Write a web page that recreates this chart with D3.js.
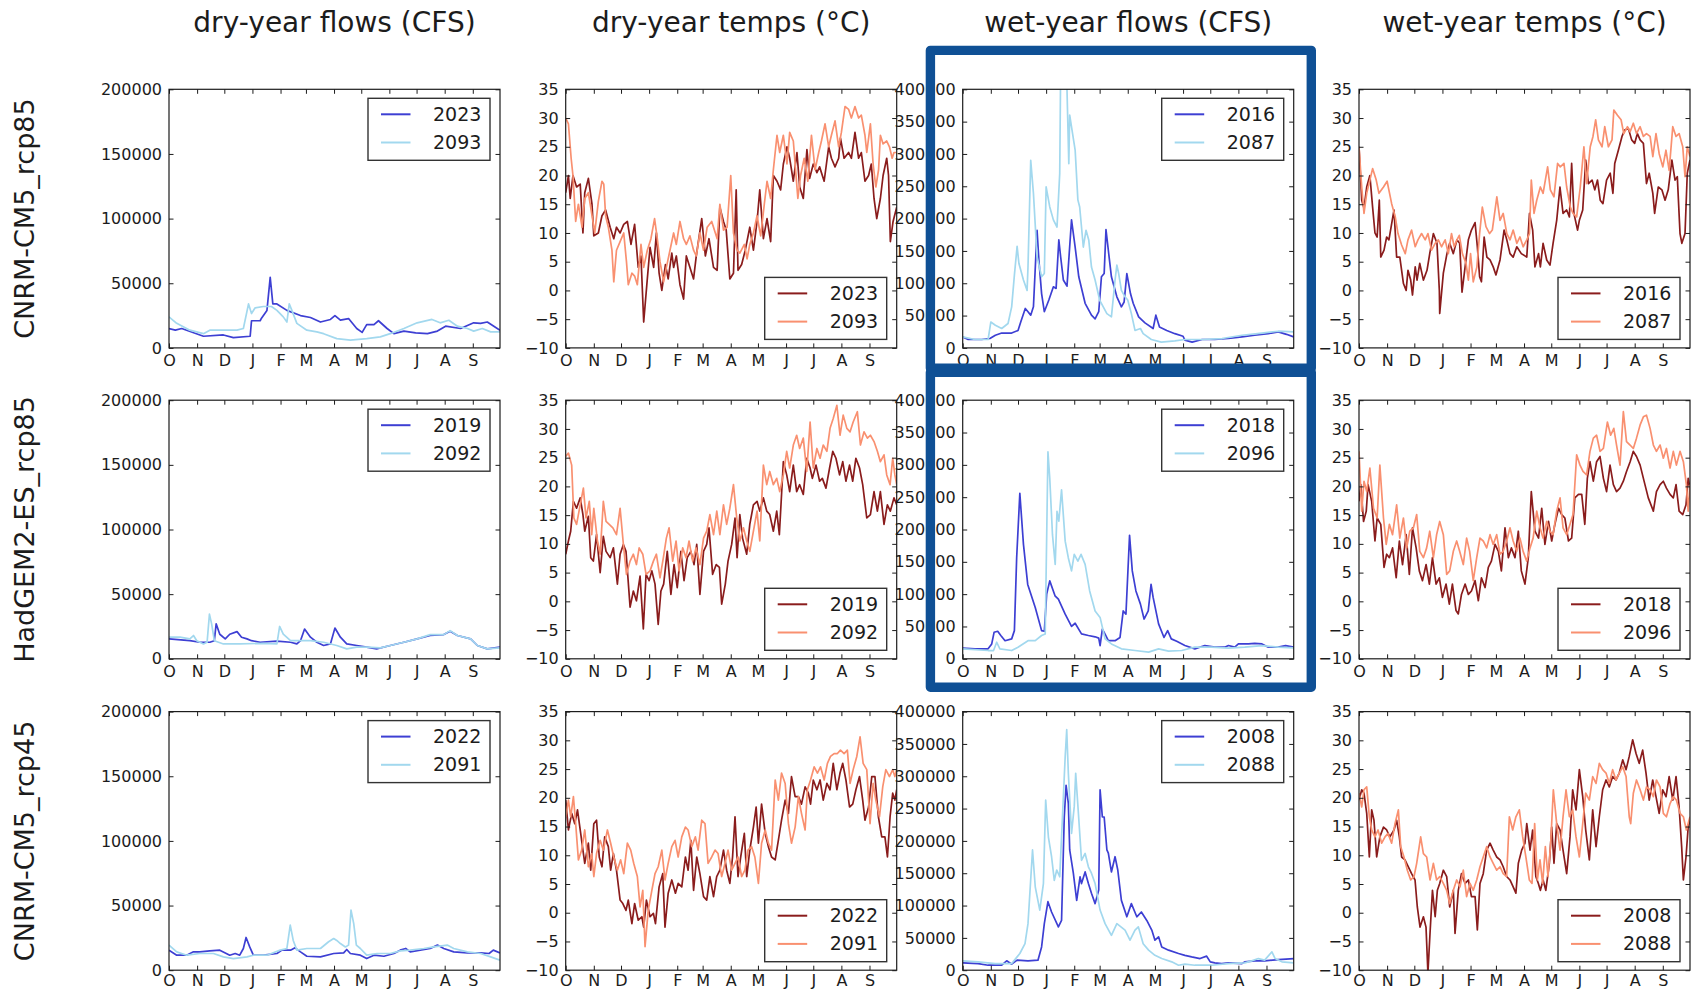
<!DOCTYPE html>
<html>
<head>
<meta charset="utf-8">
<script src="https://cdn.jsdelivr.net/npm/d3@7"></script>
<style>
  body { margin: 0; background: #fff; }
  svg { display: block; font-family: "DejaVu Sans", sans-serif; }
</style>
</head>
<body>
<svg id="chart" width="1691" height="990"></svg>
<script>
// ---------- labels & ticks ----------
const columnTitles = ["dry-year flows (CFS)", "dry-year temps (°C)", "wet-year flows (CFS)", "wet-year temps (°C)"];
const rowLabels = ["CNRM-CM5_rcp85", "HadGEM2-ES_rcp85", "CNRM-CM5_rcp45"];
const monthLabels = ["O", "N", "D", "J", "F", "M", "A", "M", "J", "J", "A", "S"];
const monthStartDays = [0, 31, 61, 92, 123, 151, 182, 212, 243, 273, 304, 335];
const dryFlowTicks = [0, 50000, 100000, 150000, 200000];
const wetFlowTicks = [0, 50000, 100000, 150000, 200000, 250000, 300000, 350000, 400000];
const tempTicks = [-10, -5, 0, 5, 10, 15, 20, 25, 30, 35];
const dryYears = [["2023", "2093"], ["2019", "2092"], ["2022", "2091"]];
const wetYears = [["2016", "2087"], ["2018", "2096"], ["2008", "2088"]];

// ---------- series: [day of water year, value]; flows in thousand CFS, temps in °C ----------
// CNRM-CM5_rcp85
const dryFlow2023 = [[0,15],[7,13.7],[14,15],[38,9],[60,10],[71,8],[89.5,9],[91,21],[100.5,21],[102,23],[108,29],[111.6,54.5],[114.5,34],[119,34],[130,29],[145,25],[156,23.5],[167,20],[178,22],[183,25],[189,21.5],[198,22.7],[207,15],[213,12],[218,18],[226,18],[231,21],[240.5,15],[248,11],[259,13],[272,11.6],[285,11],[296,13],[305,16.8],[321.5,15],[336,19.4],[343.6,19],[351,20],[356.5,17.5],[365,13.7]];
const dryFlow2093 = [[0,24],[8.5,19],[23,13.7],[38,11],[45,13.7],[60,13.7],[75,13.7],[82,15],[87.7,34],[91,26.6],[95,31],[104,32],[113,32],[119,29],[126,24],[130,20],[132.6,34],[135.5,29],[141,19],[152,13.7],[163,12.4],[170.5,11],[185,7.2],[200,6],[218,7.2],[233,8.5],[244,11],[259,15],[273.6,19.4],[290,22],[299,19.4],[308.6,21.4],[318,16.8],[329,15],[336,13],[345.5,15],[354.7,12.4],[365,12.4]];
const dryTemp2023 = [[0,17],[3,20],[5,16],[8,20],[12,18],[16,18.5],[19,10],[21,17],[25,19.5],[29,15],[31,9.5],[36,10],[40,13],[44,14],[49,11],[53,9],[56,11],[60,10],[64,11.5],[68,12],[72,8],[76,11.5],[80,4],[83,6],[86,-5.5],[90,2],[93,7.5],[97,4],[100,10],[103,3],[106,0],[110,4.5],[113,2],[117,6.5],[119,4],[122,6],[126,1],[130,-1.5],[133,6],[137,4],[141,2],[144,6],[150,12.5],[154,6],[158,9],[163,4],[167,3.5],[170,14.5],[174,12],[177,10.5],[181,2],[185,3],[188,17.5],[190,3.5],[194,4.5],[198,7],[203,11],[207,7],[211,12],[214,17.5],[218,9],[222,12.5],[226,8.5],[229,20],[233,19],[237,17.5],[240,22],[244,25],[247,23],[251,19],[255,24],[258,18],[262,16],[266,24.5],[269,19.5],[273,22],[277,20.5],[280,21.5],[285,19],[290,25],[293,23],[297,21.5],[301,23],[303,26.5],[307,23],[312,24],[315,23],[319,27.5],[323,23],[326,24],[330,19],[334,20],[337,22],[340,16],[343,12.5],[347,16],[350,20],[354,23],[356,20],[358,8.5],[361,12],[365,14.5]];
const dryTemp2093 = [[0,30],[3,29],[6,23],[8,20],[11,12],[14,15],[18,11],[21,16],[25,17],[29,13],[32,10],[36,15.5],[40,19],[42,18.5],[44,13],[47,11],[51,7],[53,1.5],[56,7],[60,8.5],[64,10],[67,5],[69,1],[73,3],[76,2.5],[79,1],[83,8],[86,4],[90,7],[94,9],[98,12.5],[101,9],[104,5],[108,1.5],[111,4],[115,7],[119,10],[122,8],[126,12],[130,9],[133,8],[137,9.5],[141,7],[144,6],[148,10],[152,7],[156,11],[161,12],[167,9],[170,15],[174,10.5],[178,11],[182,20],[185,10],[189,7],[192,6.5],[197,8],[200,5.5],[203,8],[207,10],[211,13],[215,9.5],[219,15],[222,19],[226,16],[229,21],[233,27],[236,24],[240,27],[244,22],[247,27.5],[251,26],[256,16],[259,20],[263,23],[267,19],[271,27],[275,21],[279,24],[282,26],[286,29],[290,25],[293,27],[297,29.5],[301,25],[304,27.5],[308,32],[312,31.5],[315,30],[319,32],[323,30],[326,30.5],[330,27],[332,24],[336,29],[339,22],[342,18],[345,21],[347,27],[350,25.5],[354,26],[357,25],[360,23],[362,24],[365,24]];
const wetFlow2016 = [[0,17],[6,13],[21,13],[30,14.5],[36,19.6],[43,23],[54,23],[61,27],[64,40],[69,61],[72,56],[75,50.6],[78,63.5],[82,182],[84,136],[87,84],[90,56],[95,74],[100,94.5],[103,92],[106,167],[108,141],[111,105],[115,95.5],[120,198],[124,156],[128,110],[135,69],[142,50.6],[146,45],[150,56],[153,110],[156,115],[158,183],[161,146],[164,110],[170,79],[175,63.5],[178,71],[181,115],[185,84],[188,69],[194,48],[201,38.7],[210,30],[213,50.6],[217,32.5],[225,27],[234,22],[243,18],[245,12],[253,9],[264,13],[278,13],[293,14.5],[308,17],[322,19.6],[337,22],[348,24.8],[357,21],[365,17]];
const wetFlow2087 = [[0,17],[13.6,13],[28,13],[31,40],[36,35],[43,30],[50,37.7],[54,63.5],[57,112.5],[60,157],[62,130.6],[67,105],[71,89],[72,125],[75,290],[78,239],[82,141],[87,110],[90,115],[92,249],[96,218],[100,198],[104,187],[107,270],[108,430],[113,430],[115,400],[117,285],[118,360],[120,342],[124,306],[127,229],[129,218],[133,156],[136,182],[139,167],[142,125],[146,105],[151,74],[159,53],[164,48],[168,105],[170,128],[172,115],[175,89],[179,79],[182,74],[186,53],[190,27],[196,30],[199,22],[208,13],[219,9],[234,11],[245,13],[264,13],[286,14.5],[308,19.6],[330,23],[348,25.8],[365,24.8]];
const wetTemp2016 = [[0,25],[3,15.7],[5.5,14.3],[8.5,18],[12,20],[15,14.5],[17.6,10],[20,9.3],[22.4,15.7],[24,5.8],[27.6,7],[30.5,9.3],[33,8.8],[38.6,14],[41.5,5.8],[45,5.8],[49,1.2],[52,0],[54,3.5],[57,1.8],[59,-0.8],[62,4.1],[64,1.8],[67,4.7],[71,1.8],[75,3.5],[78,6.4],[82,9.9],[86,8.2],[88.6,0],[89,-4],[93,3],[97,6.4],[100,8.2],[104,6.4],[108,8.8],[111,8.2],[113.6,-0.3],[117,4.1],[120.6,8.8],[124,10.5],[128,11.8],[130.5,7.6],[133,2.4],[135,1.5],[138,9.3],[141,5.8],[144.5,5.3],[148,4.1],[151,2.7],[155.5,5.3],[160,10.5],[163,8.8],[166.5,6.4],[170,5.8],[174,7.6],[179,6.4],[185,5.8],[188,13.4],[191.5,10.5],[194,4.1],[198,6.4],[200,4.1],[203,8.2],[207,5.3],[210.6,4.4],[214,8.2],[218,12.2],[221.6,18],[225,13.4],[229,14],[232,12.8],[234.5,22.1],[237,13.4],[241,10.5],[243,12.2],[246.7,14],[250,22.7],[253,18.6],[257,19.2],[260,17.5],[263,19.2],[266,15.7],[269,15.1],[273,19.2],[277,20.4],[280,16.9],[282,22.1],[286,24.4],[290,26.8],[293,27.9],[297,28.2],[300.7,26.2],[304,25.6],[307,27.3],[310,26.2],[313.6,25.6],[317,18.6],[320,20.4],[324,16.9],[326,13.4],[330,18],[334,17.5],[337.5,15.7],[341,17.5],[345,22.7],[348.5,19.2],[351,19.8],[354,9.9],[356,8.2],[359.5,9.9],[362,20.4],[365,22.7]];
const wetTemp2087 = [[0,25],[3,18],[5.5,13.4],[8.5,16.9],[12,19.2],[15,21.2],[19,19.2],[22,16.9],[27,18],[31,19],[36,15.1],[40,12.8],[43,9.9],[47,7.9],[51,6.4],[54,8.8],[58,10.5],[62,7.6],[65,8.8],[69,9.9],[73,8.8],[76,9.9],[80,7],[84,8.2],[87.5,8.8],[91,7.6],[95,8.8],[98.5,6.4],[102,9.9],[105,7.6],[108,8.8],[110.6,9.6],[114,6.4],[118,4.7],[120.6,1.8],[123,6.4],[126,1.5],[130,4.1],[133,9.9],[136,14.5],[140,11.1],[144,9.9],[147,10.5],[152,16.3],[155.5,12.2],[159,13.4],[163,9.9],[166.5,8.8],[170,10.5],[174,8.2],[177.5,9.3],[181,7.6],[185,8.8],[188,9.9],[190,19.2],[193,13.4],[196,15.7],[200,18],[203,16.9],[208,21.5],[211,17.5],[215,16.3],[219,22.1],[222,21.5],[226,22.1],[229,18],[233,14.5],[236,13.4],[240,12.8],[244,18],[248,25],[251,18.6],[255,25],[258,26.8],[261,29.7],[264,26.2],[268,25],[271,28.5],[275,25],[279,26.2],[281,31.4],[285,30.5],[289,29.7],[292,27.3],[296,28.5],[299,27.6],[302.5,29.1],[306,27.3],[310,28.5],[313.6,26.8],[317,27.3],[321,26.8],[324,23.3],[327.5,27.3],[331,23.8],[335,21.5],[338.5,24.4],[342,20.9],[346,28.5],[349.6,26.8],[353,27.3],[357,25],[359.5,19.8],[362,25],[365,23.3]];

// HadGEM2-ES_rcp85
const dryFlow2019 = [[0,15.4],[23,14],[34,12.8],[45,12.8],[50,14],[52,27],[56,19],[62,15.4],[67,19],[75,21],[80,16.7],[86,15.4],[91,14],[100.5,12.8],[119,13.6],[134,12.8],[141,11.5],[145,14],[149.5,23],[156,16.7],[163,12.8],[170.5,10.3],[178,11.5],[183,23.8],[189,16.7],[196,11.5],[207,10.3],[218,9],[229,7.7],[244,10.3],[259,12.8],[273.6,15.4],[288,18],[303,18.7],[310,21.3],[318,18],[332.6,15.4],[340,10.3],[351,7.7],[365,9]];
const dryFlow2092 = [[0,16.7],[12,16.7],[23,15.4],[27,18],[30.6,14],[38,11.5],[42,12.8],[44.6,34.6],[47,27],[50,14],[60,11.5],[78,11.5],[104,12],[119,11.5],[122,25],[126,19],[134,14],[141,14],[156,14],[170.5,12.8],[185,10.3],[196,7.7],[207,9],[218,9],[233,8.5],[244,10.3],[259,12.8],[273.6,15.4],[288,18.7],[303,18.7],[310,21.8],[318,18],[332.6,15.4],[340,10.3],[351,7.7],[365,8.5]];
const dryTemp2019 = [[0,8.2],[3,10.5],[5.5,12.2],[8.5,17.4],[12,16.2],[16,18],[19,15.1],[21,12.2],[25,14.8],[27.6,7.6],[30.5,7],[34,11.6],[38,5],[41.5,11.3],[44.5,8.7],[49,7.6],[52.6,9.3],[57,3],[60,8.2],[63.6,9.9],[66.5,8.7],[71,-1],[74.6,1.8],[78,0.1],[82,4.4],[85.6,-4.8],[88.6,4.7],[92,3.6],[95,5.3],[98.5,3],[102,-4],[105,1.8],[108,3],[112,8.7],[116,1.2],[119.5,6.4],[123,2.4],[127,8.7],[130.5,3.6],[134,7.6],[138,8.7],[141.5,6.4],[144.5,9.9],[148,1.2],[152,8.7],[155.5,9.9],[158,12.8],[162,4.7],[166,6.4],[169.5,5.9],[172,-0.5],[176,3],[179,7],[183,9.9],[186.7,14.5],[189,7.6],[192,15.1],[195,11],[199.6,8.2],[203,13.4],[207,16.8],[211,17.4],[214,15.7],[218,18],[221.7,15.7],[225,15.1],[229,12.2],[232.7,15.7],[235.6,11.6],[240,24.3],[243.7,22],[247,19.1],[251,23.7],[254.7,19.1],[258,20.3],[262,18.6],[265.8,24.9],[269.5,23.2],[272,21.4],[276,23.7],[280,20.9],[283,21.4],[287,19.7],[291,23.2],[294.5,26.1],[298,24.9],[302,22],[305.5,24.3],[309,20.9],[313,23.7],[316.5,20.9],[320,24.9],[324,23.2],[327.5,20.3],[332,14.5],[336,15.1],[340,19.1],[343.7,15.7],[347,19.1],[351,13.4],[354.7,16.8],[358,15.7],[362,18],[365,16.8]];
const dryTemp2092 = [[0,25.2],[3,25.8],[6.6,23.7],[9,14.5],[12,13.4],[16,16.8],[19.5,19.7],[22.4,14.5],[26,17.4],[28.7,11.6],[31,16.2],[35,10.5],[38,8.2],[41.5,17.4],[44.5,13.9],[48,13.4],[52,12.8],[56,11.6],[60,16.2],[63.6,9.9],[67,4.7],[71,7],[74.6,8.2],[78,6.4],[81,9.3],[85,8.2],[88.6,4.7],[93,5.3],[96.7,7],[100,8.2],[104,4.1],[107.7,7.6],[111,11],[114,12.8],[118,7],[121.7,10.5],[125,5.3],[129,9.3],[132.7,7.6],[136,10.5],[140,7],[143.7,9.3],[148,6.4],[152,11],[155.5,12.2],[159,15.1],[163,11.6],[166.6,15.7],[170,11.6],[174,16.8],[177.5,13.4],[181,16.2],[185,20.3],[188.6,14.5],[192,10.5],[196,12.8],[199.6,10.5],[203,8.7],[207,12.2],[211,15.7],[214,10.5],[218,23.7],[221.7,20.3],[225,22.6],[229,20.3],[232.7,21.4],[236,19.1],[240,22],[243.7,26.1],[247,23.2],[251,27.2],[254.7,28.9],[258,26.6],[262,28.4],[265.8,22.6],[269.5,31.2],[273,23.2],[277,26.6],[280.5,24.9],[284,27.2],[288,26.1],[291.5,30.1],[295,31.8],[299,34.1],[302.5,28.9],[306,32.4],[310,30.1],[313.6,29.5],[317,31.2],[321.6,33],[325,27.2],[329,29.5],[332.7,28.4],[336,28.9],[340,27.8],[343.7,26.1],[347,24.3],[351,25.5],[354,22],[357.7,20.3],[360.6,24.9],[363,22],[365,20.3]];
const wetFlow2018 = [[0,16.4],[13.6,15.4],[28,15.4],[32,23],[34.6,41],[38.6,42.6],[42,36],[46.7,28],[54,30.8],[57,43.6],[59.5,156],[63,256],[67,177],[71.7,115],[80,79.5],[87,43.6],[90,42.6],[92.6,100],[96,120.5],[101.8,97.4],[105.5,92.3],[113,69],[120,50],[124,55],[131,38.5],[138.6,36],[146,34],[150,32],[151.5,20.5],[154,46],[156,41],[160.6,28],[168,28],[173.5,33],[177,74],[180,69],[184,191],[187,136],[191,105],[196,84.6],[200,61.5],[204.6,74],[207.7,115],[210,95],[216,54],[222,33],[226,43.6],[230,30.8],[236,27],[245,20.5],[256,15.4],[267,20.5],[278,18],[289,18],[293,20.5],[300,18],[304,23],[315,23],[322,24],[330,23],[337,18],[348,18],[356,20.5],[365,18]];
const wetFlow2096 = [[0,15.4],[28,12.8],[34,12.8],[37.5,25.6],[41,15.4],[54,12.8],[61,18],[72,28],[80,28],[87,36],[91,38.5],[94,320],[96,279],[99,192],[102,146],[104,228],[106,213],[109,261.5],[113,182],[116.5,156],[120,136],[123,161.5],[127,151],[130.5,161.5],[135,146],[140,105],[146,74],[151.5,64],[157,30.8],[164,23],[175,15.4],[190,12.8],[205,10.3],[216,15.4],[227,11.8],[241.5,12.8],[256,18],[274.6,18],[293,16.4],[311,18],[330,20.5],[348,18],[365,17]];
const wetTemp2018 = [[0,17.4],[2,20.3],[5,13.9],[8,15.7],[10,20.3],[14,17.4],[17.6,10.5],[20,14.5],[24,13.4],[27.6,5.9],[30.5,8.2],[33.5,7.6],[37,9.3],[41,4.1],[44.5,10.5],[48,6.4],[52,11.6],[55.5,4.7],[59,12.8],[63,9.3],[66.5,5.3],[70,3.6],[74,6.4],[77.6,3],[81,7.6],[85,3],[88.6,4.1],[92,0.7],[96,3],[99.6,-0.5],[103,3],[107,-1.6],[109.5,-2.2],[113,1.2],[117,3],[120.6,1.2],[124,1.8],[128,3.6],[131.6,0.1],[135,4.1],[139,2.4],[142.6,5.9],[146,7],[150,9.9],[153.7,8.7],[157,5.3],[161,12.8],[164.7,7.6],[168,9.3],[172,7.6],[175.7,12.2],[179,5.3],[183,3],[186.7,7.6],[190,19.1],[194,12.2],[198,11],[201.5,16.2],[205,9.9],[209,13.9],[212.5,10.5],[216,13.4],[220,16.2],[223.5,15.1],[227,14.5],[231,10.5],[234.5,11],[238,18],[242,18.6],[245.6,18.6],[249,13.4],[251.8,21.4],[254.7,24.3],[258.4,20.9],[262,24.3],[265.8,25.2],[269.5,21.4],[273,19.1],[276.8,23.7],[280.5,20.3],[284,19.1],[287.8,19.7],[291.5,20.9],[295,22.6],[299,24.3],[302.5,26.1],[306,25.2],[310,23.7],[313.6,21.4],[319,18],[324.6,15.7],[328,19.1],[332,20.3],[335.6,20.9],[339,19.7],[343,18.6],[346.6,18],[349.6,20.3],[353,15.7],[357,15.1],[360.6,16.8],[363,21.4],[365,19.7]];
const wetTemp2096 = [[0,26.1],[3,15.7],[5.5,20.9],[8.5,19.1],[12,23.2],[16,16.2],[20,14.5],[23,23.7],[27,14.5],[30,9.9],[33.5,13.4],[37,11.6],[41.5,16.8],[45,11],[49,14.5],[52.6,9.3],[56,12.2],[60,12.8],[63.6,15.1],[67,8.7],[71,7.6],[74.6,9.3],[78,12.2],[82,7.6],[85.6,11.6],[89,13.9],[93,11.6],[96.7,4.7],[100,5.3],[104,8.7],[107.7,10.5],[111,8.7],[115,6.4],[118.7,11],[122,8.7],[126,3.6],[129.8,7.6],[133.4,11],[137,10.5],[140.8,9.3],[144.5,11.6],[148,9.9],[151.8,11.6],[155.5,8.2],[159,8.7],[162.8,10.5],[166.5,12.8],[170,10.5],[173.9,8.7],[177.5,11],[181,8.7],[184.9,7],[188.6,9.3],[192,11],[196,15.7],[199.6,12.8],[203,11],[207,13.9],[210.6,12.2],[214,11.6],[218,15.7],[221.7,18],[225,12.8],[229,11.6],[232.7,13.4],[236,15.1],[240,25.5],[243.7,23.7],[247,22.6],[251,22],[254.7,26.1],[258.4,28.4],[262,28.9],[265.8,26.1],[269.5,26.6],[273.9,31.2],[277.5,28.9],[281,30.1],[284,27.2],[287.8,23.7],[291.5,33],[295,27.8],[298.9,27.2],[302.5,26.6],[306,28.4],[310,30.7],[313.6,32.1],[317,32.4],[321,30.1],[324.6,27.2],[328,26.1],[332,27.2],[335.6,24.9],[339,26.6],[343,23.2],[346.6,26.1],[350,23.7],[354,26.1],[357.7,24.3],[361,20.3],[363,15.7],[365,20.3]];

// CNRM-CM5_rcp45
const dryFlow2022 = [[0,15.5],[8.5,11.6],[19.5,11.6],[27,14.2],[34,14.2],[45,15],[56,15.5],[67,11.6],[73,12.9],[78,11.6],[82,16.8],[85,25.3],[89,18],[93,11.6],[104,11.6],[119,12.9],[124.5,15.5],[134,15.5],[139,17.3],[145,14.2],[152,10.8],[167,10.3],[181.6,12.9],[192.6,13.4],[196,16],[200,12.9],[211,11.6],[218,9],[226,11.6],[237,10.8],[248,12.9],[255,15.5],[261,16.8],[266,14.2],[277,15.5],[288,16.8],[296,19.4],[303,16.8],[314,14.2],[329,13.4],[343.6,13.4],[353,12.9],[357.6,15.5],[365,13.4]];
const dryFlow2091 = [[0,19.4],[8.5,14.2],[19.5,11.6],[34,12.9],[49,12.9],[60,10.3],[71,9],[86,10.3],[93,11.6],[108,11.6],[122.6,15.5],[130,16.8],[133.7,34.8],[137,23],[141,15.5],[152,16.8],[167,16.8],[176,22],[181.6,24.5],[185,23],[189,20.6],[194.5,18],[198,19.4],[200.7,46.5],[203.7,36],[206.6,19.4],[211,16.8],[218,11.6],[229.5,12.9],[244,12.9],[255,15],[266,15.5],[281,16.8],[292,18],[306.8,19.4],[314,16.8],[329,14.2],[343.6,12.9],[354.7,10.3],[365,7.7]];
const dryTemp2022 = [[0,19.6],[3,14.4],[6.6,17.3],[10,15.5],[13,17.9],[16,14.4],[19,10.9],[21,8.6],[25,12.1],[27.6,7.4],[31,15.5],[34,16.1],[37,9.7],[40,8],[43,13.2],[47,11.5],[49.6,7.4],[52.6,10.3],[56,7.4],[60,2.2],[63,1.6],[66.5,0.4],[69,2.2],[73,-1.9],[76,1.6],[80,-1.3],[84,-0.7],[86,-2.5],[89,2.2],[93,-0.7],[96.7,-0.1],[99,-1.9],[103,4.5],[107,6.8],[109.5,-2.5],[113,3.4],[117,5.7],[121,3.4],[124,5.1],[128,4.5],[132,9.7],[135,7.4],[138,12.6],[141,3.9],[144.5,9.7],[148,6.8],[152,2.8],[155.5,2.2],[159,6.3],[163,2.8],[166.5,6.3],[170,7.4],[174,10.9],[177.5,7.4],[181,5.1],[184,9.7],[186.7,16.7],[190,6.3],[193,9.7],[197,13.8],[199.6,6.3],[203,10.9],[207,14.9],[210,18.4],[212.5,12.1],[216,18.9],[220,13.8],[223.5,11.5],[227,9.7],[231,9.2],[234.5,12.6],[238,16.1],[242,19.6],[245.6,17.3],[249,23.7],[253,20.2],[256.6,20.2],[260,18.9],[264,21.9],[267.6,20.8],[270,18.9],[273,23.1],[277,21.4],[280.5,23.1],[284,19.6],[288,22.5],[291.5,21.4],[295,26],[299,21.4],[302.5,24.3],[305.5,26],[309,23.1],[313,18.4],[316.5,18.9],[320,21.4],[324,23.7],[327.5,19.6],[330,16.1],[334,18.4],[337.5,23.7],[341,23.7],[344.8,16.7],[348.5,13.2],[352,13.2],[354.8,9.7],[357.7,16.7],[360.6,20.8],[363,19.6],[365,21.4]];
const dryTemp2091 = [[0,16.7],[3,19.6],[5.5,16.7],[8.5,20.2],[11,15.5],[14,9.2],[17.6,10.9],[21,14.4],[25,8],[28.7,10.3],[31,6.3],[34,10.3],[38,12.6],[41.5,10.9],[46,14.4],[49.6,12.1],[53,9.7],[57,7.4],[60.6,9.2],[64,6.8],[68,12.1],[71.7,10.9],[75,8.6],[79,6.3],[82,1],[85,3.9],[87.5,-5.9],[91,0.4],[95,3.9],[98.5,6.8],[102,8],[106,10.9],[109.5,5.7],[113,8.6],[117,11.5],[120.6,12.6],[124,9.7],[128,13.2],[132,14.9],[135,14.4],[139,11.5],[143,13.2],[146,10.9],[150,16.1],[153.6,15.5],[157,8.6],[161,9.7],[164.7,10.9],[168,10.3],[172,6.3],[175.7,8.6],[179,10.9],[183,7.4],[186.7,8.6],[190,9.7],[194,6.3],[197.6,7.4],[201,10.9],[205,11.5],[208.6,9.7],[212.5,5.1],[216,12.1],[220,14.4],[223.5,12.1],[227,10.9],[231,23.1],[234.5,19.6],[238,24.3],[242,22.5],[245.6,15.5],[249,12.1],[253,14.9],[256.6,20.2],[260,17.3],[264,14.4],[266.5,21.4],[270,23.1],[274,25.4],[277.6,24.3],[281,25.4],[285,23.1],[288.6,26],[292,27.2],[296,27.7],[299.6,27.7],[303,28.3],[307,27.7],[310.6,28.3],[313.6,22.5],[317,24.9],[321,27.2],[324.6,30.6],[328,26],[332,24.9],[335.6,15.5],[339,22.5],[342,19.6],[346,16.7],[349.6,21.9],[353,24.9],[357,23.7],[360.6,24.9],[363,23.7],[365,24.9]];
const wetFlow2008 = [[0,11.4],[17,10.3],[28,7.7],[43,7.7],[48.5,14.5],[54,9.3],[60,15.5],[72,14.5],[83,15.5],[87,36],[90,72],[94,106],[98,90],[105.5,67],[109,77],[112,237],[114,286],[116.5,258],[118,186],[122,150],[125.7,108],[129.4,144.5],[131,134],[135,152],[138.6,134],[142,119],[146,103],[150,124],[151.5,279],[154,237],[156,237],[159,186],[160.6,181],[164,152],[168,175.5],[171,155],[175,108],[181,82.6],[186,103],[192,82.6],[197,90],[203,77],[208.5,62],[212,46.5],[216,51.6],[219.5,36],[227,31],[238,25.8],[245,23],[252.5,20.6],[261.7,18],[269,21.7],[273,12.9],[278,11.4],[285.6,10.3],[293,11.4],[308,10.3],[311,12.9],[322,14.5],[333,14.5],[348,16.5],[365,18]];
const wetFlow2088 = [[0,14.5],[17,12.9],[35.7,10.3],[54,10.3],[60,20.6],[63,25.8],[68.7,41],[72,72],[77,186],[80,129],[85,93],[89,134],[91.5,263],[94.5,206],[98,175.5],[101,139],[103.7,155],[107,144.5],[110,237],[113,330],[114.7,372],[116.5,304.5],[120,211.6],[123,253],[124.6,304.5],[127.6,242.6],[131,170],[135,180.6],[138.6,160],[142,150],[146,134],[151.5,93],[157,72],[164,54],[170,72],[179,62],[184.5,46.5],[190,62],[193.7,67],[199,41],[205,31],[212,23],[219.5,18],[230.5,12.9],[238,7.7],[245,9.3],[256,7.7],[274.6,7.7],[293,10.3],[311,11.4],[318.7,14.5],[326,18],[333,15.5],[341,28.4],[344.5,18],[352,12.9],[365,11.4]];
const wetTemp2008 = [[0,19.6],[3,21.4],[5.5,20.8],[8.5,17.3],[11.4,9.7],[14,17.9],[16.5,16.1],[19.5,9.7],[23,13.2],[27,14.9],[30.5,14.4],[34,13.2],[38.6,14.4],[41.5,16.1],[44.5,13.2],[47,9.7],[50.7,9.2],[54.4,8],[58,6.8],[61.8,5.7],[64.3,1],[67.3,-2.5],[71,-0.7],[73.9,-2.5],[76,-10.5],[78.3,-3.6],[81,3.9],[84,-0.7],[86.4,3.9],[89,5.1],[93,7.4],[96.7,6.3],[100,1],[104,3.9],[105.9,-3.6],[109.5,3.9],[113,6.8],[117,5.1],[120.6,5.7],[124,2.8],[128,2.8],[130.5,-3],[133.4,5.1],[137,6.8],[140.8,10.9],[144.5,12.1],[148,10.9],[151.8,9.7],[155.5,9.2],[159,8],[162.8,6.3],[166.5,5.7],[170,4.5],[173,3.4],[175.7,8.6],[179.4,10.9],[183,12.1],[185,15.5],[188.6,10.9],[191.5,14.4],[195,6.3],[197.8,5.1],[200,3.9],[203,5.7],[206,3.9],[209.9,8.6],[212.5,14.9],[215,8.6],[218,15.5],[221.7,14.4],[225,10.9],[229,6.8],[232.7,13.2],[235.6,21.4],[239.3,17.9],[243,24.9],[246.7,20.2],[250,14.4],[254,9.2],[257.7,17.9],[261.4,11.5],[265,16.7],[268.7,21.4],[272.4,23.1],[276,21.9],[279.7,23.7],[283.4,23.1],[287,24.3],[290.8,26.6],[294.5,24.9],[298,27.2],[301.8,30.1],[305.5,27.7],[309,26],[312.8,28.3],[316.5,24.3],[320,19.6],[323.9,23.1],[327.5,20.2],[331,17.3],[334.9,21.4],[338.6,20.2],[342,23.7],[346,19.6],[349.6,23.7],[353,18.4],[355.8,11.5],[357.7,5.7],[360.6,9.7],[363,14.9],[365,16.1]];
const wetTemp2088 = [[0,20.8],[3,18.4],[5.5,21.4],[8.5,21.9],[11.4,16.7],[14,14.4],[17.6,13.2],[21,14.4],[25,12.1],[28.7,13.2],[32,13.8],[36,12.1],[39.7,15.5],[43.4,17.9],[46,11.5],[49.6,9.7],[53.3,7.4],[57,5.7],[60.7,6.3],[63.6,8.6],[68,13.2],[71,10.3],[74.6,9.7],[78.3,5.7],[82,8.6],[85.6,5.7],[89,6.3],[93,5.1],[96.7,3.9],[100,1.6],[104,3.9],[107.7,5.7],[111.4,4.5],[115,7.4],[118.7,2.8],[122.4,5.1],[126,3.9],[129.8,5.7],[133.4,8],[137,9.7],[140.8,11.5],[144.5,9.7],[148,8.6],[151.8,7.4],[155.5,8],[159,6.8],[162.8,6.3],[165.8,16.7],[169.5,14.4],[173,16.7],[176.8,17.9],[180.5,13.2],[184,9.7],[187.8,5.7],[190.8,5.1],[193.7,15.5],[196.7,5.7],[199.6,9.2],[202.5,5.1],[205.5,11.5],[208.4,6.3],[211.4,12.1],[214.3,21.4],[218,15.5],[221.7,10.9],[225,16.7],[228.3,21.4],[232,16.7],[235.6,17.9],[239.3,13.2],[243,9.7],[246.7,15.5],[250,20.8],[254,19.6],[257.7,23.7],[261.4,22.5],[265,26],[268.7,24.9],[272.4,24.3],[276,22.5],[279.7,24.9],[283.4,23.1],[287,24.3],[290.8,25.4],[294.5,23.7],[298,16.7],[299.6,15.5],[302.5,20.8],[306,23.1],[310,21.4],[313.6,19.6],[317,21.9],[321,21.4],[324.6,20.2],[328,23.1],[332,21.9],[335.6,17.3],[339,16.7],[343,19],[346.6,20.2],[350,19.6],[354,17.3],[357.7,16.7],[361,14.4],[365,16.7]];

// ---------- panel table built from the arrays above ----------
const flowColors = ["#3d3fd3", "#a2d8ee"];
const tempColors = ["#8a1c1c", "#f99070"];
const columnKinds = [
  { domain: [0, 200000], ticks: dryFlowTicks, colors: flowColors, legendAt: "top", unit: 1000 },
  { domain: [-10, 35], ticks: tempTicks, colors: tempColors, legendAt: "bottom", unit: 1 },
  { domain: [0, 400000], ticks: wetFlowTicks, colors: flowColors, legendAt: "top", unit: 1000 },
  { domain: [-10, 35], ticks: tempTicks, colors: tempColors, legendAt: "bottom", unit: 1 }
];
const seriesByRow = [
  [[dryFlow2023, dryFlow2093], [dryTemp2023, dryTemp2093], [wetFlow2016, wetFlow2087], [wetTemp2016, wetTemp2087]],
  [[dryFlow2019, dryFlow2092], [dryTemp2019, dryTemp2092], [wetFlow2018, wetFlow2096], [wetTemp2018, wetTemp2096]],
  [[dryFlow2022, dryFlow2091], [dryTemp2022, dryTemp2091], [wetFlow2008, wetFlow2088], [wetTemp2008, wetTemp2088]]
];

// ---------- layout ----------
const colLeft = [169, 565.7, 962.7, 1359];
const rowTop = [89.3, 400.2, 711.6];
const plotW = 331, plotH = 258.6;
const ink = "#1c1c1c";

const svg = d3.select("#chart");
const x = d3.scaleLinear().domain([0, 365]).range([0, plotW]);

// column titles
svg.selectAll("text.col-title").data(columnTitles).join("text")
  .attr("class", "col-title")
  .attr("x", (d, i) => colLeft[i] + plotW / 2)
  .attr("y", 31.5)
  .attr("text-anchor", "middle")
  .attr("font-size", 28)
  .attr("fill", ink)
  .text(d => d);

// row labels
svg.selectAll("text.row-label").data(rowLabels).join("text")
  .attr("class", "row-label")
  .attr("transform", (d, i) => `translate(34,${rowTop[i] + plotH / 2}) rotate(-90)`)
  .attr("text-anchor", "middle")
  .attr("font-size", 27)
  .attr("fill", ink)
  .text(d => d);

const lineGen = d3.line().curve(d3.curveLinear);

rowTop.forEach((top, r) => {
  colLeft.forEach((left, c) => {
    const kind = columnKinds[c];
    const years = (c < 2 ? dryYears : wetYears)[r];
    const series = seriesByRow[r][c];
    const y = d3.scaleLinear().domain(kind.domain).range([plotH, 0]);
    const g = svg.append("g").attr("transform", `translate(${left},${top})`);
    const clipId = `clip-${r}-${c}`;
    g.append("clipPath").attr("id", clipId)
      .append("rect").attr("width", plotW).attr("height", plotH);

    g.append("rect").attr("width", plotW).attr("height", plotH).attr("fill", "#fff");

    // data lines: first the near-term year, then the late-century year on top
    const lines = g.append("g").attr("clip-path", `url(#${clipId})`);
    series.forEach((pts, k) => {
      lines.append("path")
        .attr("d", lineGen(pts.map(p => [x(p[0]), y(p[1] * kind.unit)])))
        .attr("fill", "none")
        .attr("stroke", kind.colors[k])
        .attr("stroke-width", 1.7)
        .attr("stroke-linejoin", "round");
    });

    // axes with inward ticks on all four sides; the bottom row keeps its
    // month letters inside the page edge
    const monthPad = r === rowTop.length - 1 ? 4.5 : 7;
    const fmt = d3.format("d");
    const left_ = g.append("g").call(d3.axisLeft(y).tickValues(kind.ticks).tickFormat(fmt)
      .tickSizeInner(-4.5).tickSizeOuter(0).tickPadding(7));
    const right_ = g.append("g").attr("transform", `translate(${plotW},0)`)
      .call(d3.axisRight(y).tickValues(kind.ticks).tickFormat("").tickSizeInner(-4.5).tickSizeOuter(0));
    const bottom_ = g.append("g").attr("transform", `translate(0,${plotH})`)
      .call(d3.axisBottom(x).tickValues(monthStartDays).tickFormat((d, i) => monthLabels[i])
        .tickSizeInner(-4.5).tickSizeOuter(0).tickPadding(monthPad));
    const top_ = g.append("g")
      .call(d3.axisTop(x).tickValues(monthStartDays).tickFormat("").tickSizeInner(-4.5).tickSizeOuter(0));
    [left_, right_, bottom_, top_].forEach(a => {
      a.select(".domain").remove();
      a.selectAll("line").attr("stroke", ink).attr("stroke-width", 1);
      a.selectAll("text").attr("fill", ink).attr("font-size", 16)
        .attr("font-family", "DejaVu Sans, sans-serif");
    });

    // frame
    g.append("rect").attr("width", plotW).attr("height", plotH)
      .attr("fill", "none").attr("stroke", ink).attr("stroke-width", 1.2);

    // legend
    const lw = 122, lh = 62;
    const lx = plotW - 10 - lw;
    const ly = kind.legendAt === "top" ? 9 : plotH - 8.5 - lh;
    const leg = g.append("g").attr("transform", `translate(${lx},${ly})`);
    leg.append("rect").attr("width", lw).attr("height", lh)
      .attr("fill", "#fff").attr("stroke", "#333").attr("stroke-width", 1.4);
    years.forEach((yr, k) => {
      leg.append("line")
        .attr("x1", 13).attr("x2", 42.5)
        .attr("y1", 16 + k * 28.2).attr("y2", 16 + k * 28.2)
        .attr("stroke", kind.colors[k]).attr("stroke-width", 2);
      leg.append("text")
        .attr("x", 65).attr("y", 22.6 + k * 28.2)
        .attr("font-size", 19).attr("fill", ink)
        .text(yr);
    });
  });
});

// highlight frames around the wet-year flow panels of the rcp85 runs
const frameColor = "#0f5095";
const frames = [
  { x0: 925.7, x1: 1316, y0: 45.7, y1: 373 },
  { x0: 925.7, x1: 1316, y0: 367.5, y1: 692 }
];
const sw = 9.4;
svg.selectAll("rect.frame").data(frames).join("rect")
  .attr("class", "frame")
  .attr("x", d => d.x0 + sw / 2)
  .attr("y", d => d.y0 + sw / 2)
  .attr("width", d => d.x1 - d.x0 - sw)
  .attr("height", d => d.y1 - d.y0 - sw)
  .attr("fill", "none")
  .attr("stroke", frameColor)
  .attr("stroke-width", sw)
  .attr("stroke-linejoin", "round");
</script>
</body>
</html>
